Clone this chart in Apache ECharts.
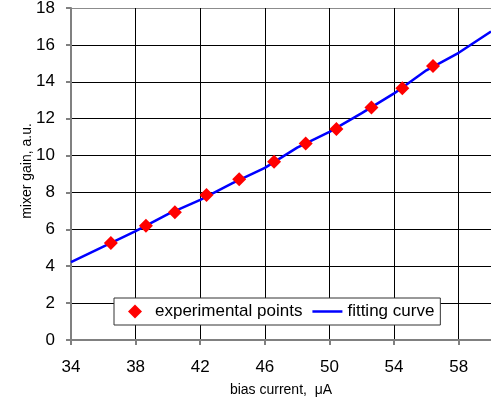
<!DOCTYPE html>
<html>
<head>
<meta charset="utf-8">
<script src="https://cdn.jsdelivr.net/npm/echarts@6/dist/echarts.min.js"></script>
<style>
html,body{margin:0;padding:0;background:#fff;}
#chart{width:491px;height:400px;}
</style>
</head>
<body>
<div id="chart"></div>
<script>
// Experimental points
var pointX = [36.47, 38.64, 40.43, 42.39, 44.41, 46.57, 48.53, 50.43, 52.6, 54.51, 56.41];
var pointY = [5.26, 6.2, 6.92, 7.86, 8.71, 9.67, 10.66, 11.44, 12.6, 13.65, 14.86];
// Fitting curve
var fitX = [34, 36, 38, 40, 42, 44, 46, 48, 50, 52, 54, 56, 58, 60];
var fitY = [4.22, 5.06, 5.9, 6.83, 7.6, 8.5, 9.33, 10.43, 11.28, 12.3, 13.37, 14.62, 15.57, 16.72];
var seriesNames = ['experimental points', 'fitting curve'];
var xAxisTitle = 'bias current,  \u03bcA';
var yAxisTitle = 'mixer gain, a.u.';

var FONT = 'Liberation Sans, Arial, sans-serif';
var chart = echarts.init(document.getElementById('chart'), null, {renderer: 'canvas'});

function pairs(xs, ys) { return xs.map(function (x, i) { return [x, ys[i]]; }); }

var ySplitColors = [];
for (var i = 0; i < 10; i++) ySplitColors.push(i === 9 ? '#8c8c8c' : '#000');

chart.setOption({
  animation: false,
  backgroundColor: '#fff',
  grid: {left: 71, right: 0, top: 8, bottom: 60, containLabel: false, outerBoundsMode: 'none'},
  xAxis: {
    type: 'value', min: 34, max: 60, interval: 4,
    name: xAxisTitle, nameLocation: 'middle', nameGap: 43, nameMoveOverlap: false,
    nameTextStyle: {fontFamily: FONT, fontSize: 14, color: '#000'},
    axisLine: {show: true, lineStyle: {color: '#808080', width: 2}},
    axisTick: {show: true, length: 5, lineStyle: {color: '#808080', width: 2}},
    axisLabel: {fontFamily: FONT, fontSize: 17, color: '#000', margin: 19, showMaxLabel: false},
    splitLine: {show: true, lineStyle: {color: '#000', width: 1}}
  },
  yAxis: {
    type: 'value', min: 0, max: 18, interval: 2,
    name: yAxisTitle, nameLocation: 'middle', nameGap: 37, nameRotate: 90, nameMoveOverlap: false,
    nameTextStyle: {fontFamily: FONT, fontSize: 14, color: '#000', padding: [0, 0, 0, 6]},
    axisLine: {show: true, lineStyle: {color: '#808080', width: 2}},
    axisTick: {show: true, length: 5, lineStyle: {color: '#808080', width: 2}},
    axisLabel: {fontFamily: FONT, fontSize: 17, color: '#000', margin: 16},
    splitLine: {show: true, lineStyle: {color: ySplitColors, width: 1}}
  },
  legend: {
    left: 114, top: 298,
    orient: 'horizontal',
    backgroundColor: '#fff',
    borderColor: '#333', borderWidth: 1, borderRadius: 0,
    padding: [5, 6, 5, 14],
    itemWidth: 30, itemHeight: 14, itemGap: 10,
    symbolKeepAspect: true,
    textStyle: {fontFamily: FONT, fontSize: 17, color: '#000'},
    data: [
      {name: seriesNames[0], icon: 'path://M0,-1L1,0L0,1L-1,0Z'},
      {name: seriesNames[1], icon: 'path://M0,0H30V2.5H0Z'}
    ]
  },
  series: [
    {
      name: seriesNames[1], type: 'line', data: pairs(fitX, fitY),
      symbol: 'none', smooth: false,
      lineStyle: {color: '#0000ff', width: 2.5}, itemStyle: {color: '#0000ff'}, z: 2
    },
    {
      name: seriesNames[0], type: 'scatter', data: pairs(pointX, pointY),
      symbol: 'diamond', symbolSize: 14,
      itemStyle: {color: '#ff0000', opacity: 1}, z: 3
    }
  ]
});
</script>
</body>
</html>
